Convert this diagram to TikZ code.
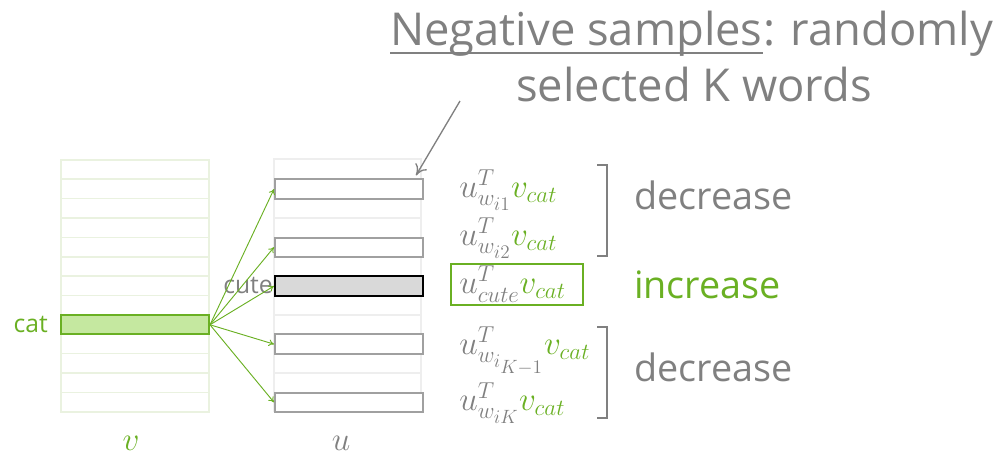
\documentclass[tikz,border=0pt]{standalone}
\usepackage{fontspec}
\setmainfont{Open Sans}
\usetikzlibrary{arrows.meta,calc}
\DeclareMathSizes{23.5}{23.5}{18.5}{14.5}
\DeclareMathSizes{28}{28}{20}{14}
\definecolor{leaf}{RGB}{106,176,35}
\definecolor{leaffill}{RGB}{197,232,160}
\definecolor{leafgrid}{RGB}{234,242,224}
\definecolor{ink}{RGB}{128,128,128}
\definecolor{boxedge}{RGB}{160,160,160}
\definecolor{faint}{RGB}{238,238,238}
\definecolor{cutefill}{RGB}{217,217,217}
\tikzset{
  cell/.style={rectangle, inner sep=0pt, minimum width=111pt, minimum height=14.54pt, anchor=north west},
  vcell/.style={cell, draw=leafgrid, line width=1.2pt},
  ucell/.style={cell, draw=boxedge, fill=white, line width=1.5pt},
  catcell/.style={cell, draw=leaf, fill=leaffill, line width=1.5pt},
  cutecell/.style={cell, draw=black, fill=cutefill, line width=1.5pt},
  link/.style={draw=leaf, line width=0.7pt, -{To[length=4pt,width=5pt]}},
  expr/.style={inner sep=0pt, anchor=west, font=\fontsize{23.5}{26}\selectfont},
  verdict/.style={inner sep=0pt, anchor=west, font=\fontsize{28.3}{32}\selectfont},
  bracket/.style={draw=ink, line width=1.5pt},
  wordlabel/.style={inner sep=0pt, font=\fontsize{18.5}{22}\selectfont},
  axislabel/.style={inner sep=0pt, font=\fontsize{28}{30}\selectfont},
  heading/.style={inner sep=0pt, text=ink, font=\fontsize{34}{40}\selectfont}
}
\begin{document}
\begin{tikzpicture}[x=0.75pt, y=-0.75pt]
\useasboundingbox (0,0) rectangle (1002,455);
\def\rh{19.385}
% embedding table v
\foreach \i in {0,...,12} {
  \node[vcell] (v\i) at (60,{159+\i*\rh}) {};
}
\node[catcell] (cat) at (60,{159+8*\rh}) {};
\node[wordlabel, text=leaf, anchor=east] (catlbl) at (48,324.5) {cat};
\node[axislabel, text=leaf] (vlbl) at (131,443) {$v$};
% context table u (faint frame)
\draw[faint, line width=1.2pt] (274,159) rectangle (421,411);
\draw[faint, line width=1.2pt] (274,218.2) -- (421,218.2);
\draw[faint, line width=1.2pt] (274,315) -- (421,315);
\draw[faint, line width=1.2pt] (274,372.7) -- (421,372.7);
\node[ucell] (u1) at (274,{159+1*\rh}) {};
\node[ucell] (u2) at (274,{159+4*\rh}) {};
\node[cutecell] (cute) at (274,{159+6*\rh}) {};
\node[ucell] (u4) at (274,{159+9*\rh}) {};
\node[ucell] (u5) at (274,{159+12*\rh}) {};
\node[wordlabel, text=ink, anchor=east] (cutelbl) at (273,285.5) {cute};
\node[axislabel, text=ink] (ulbl) at (341,443) {$u$};
% connections from the cat vector
\foreach \t in {u1,u2,cute,u4,u5} {
  \draw[link] (cat.east) -- (\t.west);
}
% dot products
\node[expr] (e1) at (459,190) {$\color{ink}u^T_{w_{i1}}\color{leaf}v_{cat}$};
\node[expr] (e2) at (459,238) {$\color{ink}u^T_{w_{i2}}\color{leaf}v_{cat}$};
\node[expr] (e3) at (459,284) {$\color{ink}u^T_{cute}\color{leaf}v_{cat}$};
\node[expr] (e4) at (459,351) {$\color{ink}u^T_{w_{i_{K-1}}}\color{leaf}v_{cat}$};
\node[expr] (e5) at (459,403) {$\color{ink}u^T_{w_{iK}}\color{leaf}v_{cat}$};
\node[draw=leaf, line width=1.5pt, inner sep=0pt, minimum width=99pt, minimum height=31pt] (e3box) at (517,284.2) {};
% brackets
\draw[bracket] (597,165) -- (607,165) -- (607,256) -- (597,256);
\draw[bracket] (597,327) -- (607,327) -- (607,418) -- (597,418);
\node[verdict, text=ink] (d1) at (634,195) {decrease};
\node[verdict, text=leaf] (inc) at (634,285) {increase};
\node[verdict, text=ink] (d2) at (634,367) {decrease};
% heading, with the underlined term, and its pointer
\node[heading, anchor=base west] (headterm) at (390,45) {Negative samples};
\node[heading, anchor=base west] (headrest) at (headterm.base east) {: randomly};
\node[heading, anchor=base] (head2) at (694,101) {selected K words};
\draw[ink, line width=1pt] ($(headterm.base west)+(0,8)$) -- ($(headterm.base east)+(0,8)$);
\coordinate (ptr) at (460,101);
\draw[draw=ink, line width=1pt, -{To[length=8pt,width=10pt]}] (ptr) -- ($(u1.north east)+(-8,-3)$);
\end{tikzpicture}
\end{document}
